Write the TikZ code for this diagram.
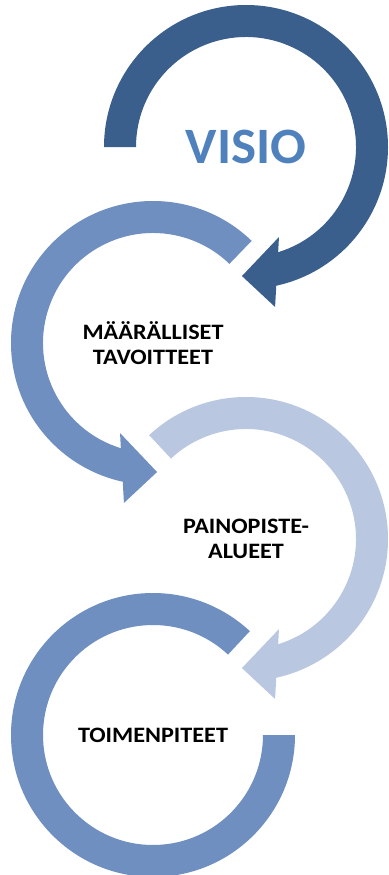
\documentclass[tikz,border=0pt]{standalone}
\usepackage{fontspec}
\setmainfont{Carlito}
\newfontfamily\phasefont{Carlito}[FakeStretch=1.1]
\newfontfamily\titlefont{Carlito}[FakeStretch=1.04]
\definecolor{arrowdark}{HTML}{3B5F8C}
\definecolor{arrowmid}{HTML}{6E8FC0}
\definecolor{arrowlight}{HTML}{B9C7E0}
\definecolor{visioblue}{HTML}{4F81BD}
\begin{document}
\begin{tikzpicture}[x=1pt, y=1pt,
    phase/.style={font=\phasefont\bfseries\fontsize{22}{25.6}\selectfont, align=center, text=black},
    title/.style={font=\titlefont\bfseries\fontsize{51}{60}\selectfont, text=visioblue}]
    \useasboundingbox (0,0) rectangle (388,-875);
    % VISIO, arrow clockwise from the left side
    \begin{scope}[shift={(246,-147)}]
        \fill[arrowdark] (180:142) arc[start angle=180, end angle=-77.7, radius=142] -- (-79.7:162.6) -- (-91.8:129.1) -- (-69.9:95.9) -- (-73:110) arc[start angle=-73, end angle=180, radius=110] -- cycle;
        \node[title] (visio) at (0,0) {VISIO};
    \end{scope}
    % maaralliset tavoitteet, arrow counter-clockwise
    \begin{scope}[shift={(153,-343)}]
        \fill[arrowmid] (46:142) arc[start angle=46, end angle=257.7, radius=142] -- (259.7:162.6) -- (271.8:129.1) -- (249.9:95.9) -- (253:110) arc[start angle=253, end angle=46, radius=110] -- cycle;
        \node[phase] (tavoitteet) at (0,0) {MÄÄRÄLLISET\\TAVOITTEET};
    \end{scope}
    % painopistealueet, arrow clockwise
    \begin{scope}[shift={(246,-539)}]
        \fill[arrowlight] (133:142) arc[start angle=133, end angle=-77.7, radius=142] -- (-79.7:162.6) -- (-91.8:129.1) -- (-69.9:95.9) -- (-73:110) arc[start angle=-73, end angle=133, radius=110] -- cycle;
        \node[phase] (painopisteet) at (0,0) {PAINOPISTE-\\ALUEET};
    \end{scope}
    % toimenpiteet, open ring with no head
    \begin{scope}[shift={(153,-735)}]
        \fill[arrowmid] (0:142) arc[start angle=0, end angle=-313, radius=142] -- (-313:110) arc[start angle=-313, end angle=0, radius=110] -- cycle;
        \node[phase] (toimenpiteet) at (0,0) {TOIMENPITEET};
    \end{scope}
\end{tikzpicture}
\end{document}
